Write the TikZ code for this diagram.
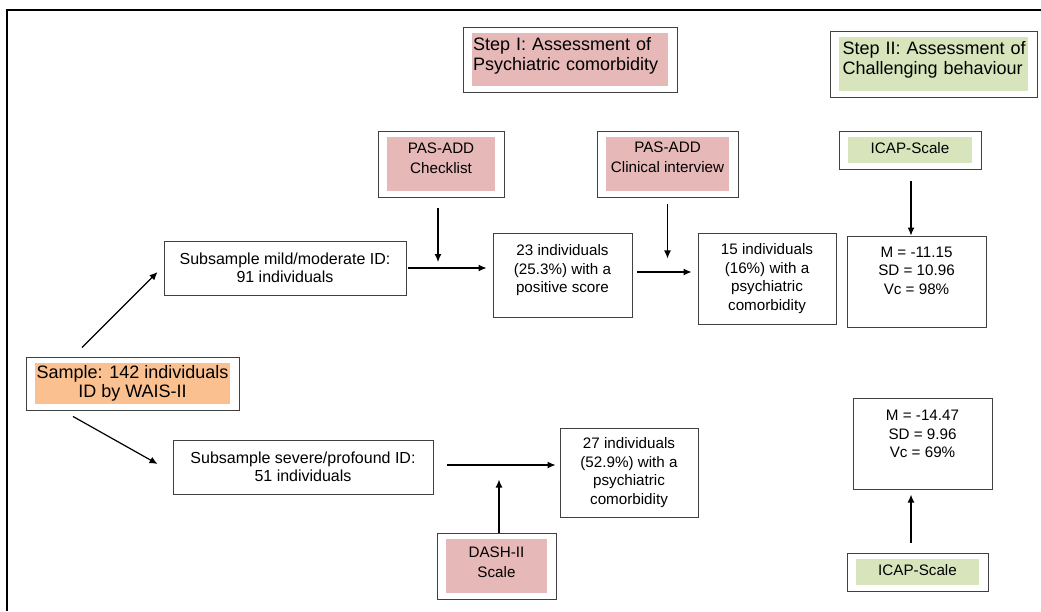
\documentclass[tikz,border=0pt]{standalone}
\usepackage{fontspec}
\setmainfont{Liberation Sans}
\usetikzlibrary{arrows.meta}

\definecolor{toolred}{RGB}{230,184,183}
\definecolor{toolgreen}{RGB}{215,228,188}
\definecolor{sampleorange}{RGB}{250,192,144}
\definecolor{boxgray}{RGB}{64,64,64}

\tikzset{
	box/.style={draw=boxgray, line width=0.9pt, fill=white, inner sep=0pt, align=center,
		font=\fontsize{15.2}{18.5}\selectfont},
	subbox/.style={box, font=\fontsize{16}{18.5}\selectfont},
	tool/.style={box, font=\fontsize{15.2}{20}\selectfont,
		path picture={\fill[#1] ([xshift=9pt,yshift=-6pt]path picture bounding box.north west)
			rectangle ([xshift=-9pt,yshift=6pt]path picture bounding box.south east);}},
	stepbox/.style={tool=#1, align=left, font=\fontsize{18}{20}\selectfont},
}

\begin{document}
\begin{tikzpicture}[>={Latex[length=8pt,width=7pt]}, x=1pt, y=-1pt]
	\useasboundingbox (0,0) rectangle (1041,611);
	
	% Rahmen
	\draw[line width=2pt] (7,611) -- (7,10) -- (1041,10);
	
	% Schritte
	\node[stepbox=toolred, minimum width=214pt, minimum height=65pt, text width=194pt, inner xsep=10pt, text depth=31pt] (stepone) at (570,59.5) {Step I: Assessment of\\Psychiatric comorbidity};
	\node[stepbox=toolgreen, minimum width=207pt, minimum height=66pt, text width=190pt, inner xsep=8.5pt, text depth=32pt] (steptwo) at (933.5,64) {\hspace*{4pt}Step II: Assessment of\\\hspace*{4pt}Challenging behaviour};
	
	% Instrumente
	\node[tool=toolred, minimum width=126pt, minimum height=66pt, text depth=12pt] (checklist) at (441,164) {PAS-ADD\\Checklist};
	\node[tool=toolred, minimum width=141pt, minimum height=66pt, text depth=14pt] (interview) at (667.5,164) {PAS-ADD\\Clinical interview};
	\node[tool=toolgreen, minimum width=142pt, minimum height=38pt, text depth=4pt] (icaptop) at (910,150) {ICAP-Scale};
	\node[tool=toolred, minimum width=119pt, minimum height=66pt, text depth=7pt] (dash) at (496.5,566) {DASH-II\\Scale};
	\node[tool=toolgreen, minimum width=141pt, minimum height=38pt, text depth=4pt] (icapbot) at (917.5,572) {ICAP-Scale};
	
	% Stichprobe
	\node[tool=sampleorange, minimum width=213pt, minimum height=53pt, font=\fontsize{18}{19}\selectfont] (sample) at (132.5,383.5) {Sample: 142 individuals\\ID by WAIS-II};
	\node[subbox, minimum width=242pt, minimum height=54pt] (mild) at (285,268) {Subsample mild/moderate ID:\\91 individuals};
	\node[subbox, minimum width=260pt, minimum height=54pt] (severe) at (303,467) {Subsample severe/profound ID:\\51 individuals};
	
	% Ergebnisse
	\node[box, minimum width=139pt, minimum height=84pt, text depth=13pt] (positive) at (562.5,275) {23 individuals\\(25.3\%) with a\\positive score};
	\node[box, minimum width=138pt, minimum height=91pt] (comorbmild) at (767,278.5) {15 individuals\\(16\%) with a\\psychiatric\\comorbidity};
	\node[box, minimum width=138pt, minimum height=89pt] (comorbsevere) at (629,472.5) {27 individuals\\(52.9\%) with a\\psychiatric\\comorbidity};
	\node[box, minimum width=139pt, minimum height=91pt, text depth=22pt] (statmild) at (916.5,281.5) {M = -11.15\\SD = 10.96\\Vc = 98\%};
	\node[box, minimum width=139pt, minimum height=91pt, text depth=19pt] (statsevere) at (922.5,443.5) {M = -14.47\\SD = 9.96\\Vc = 69\%};
	
	% Pfeile
	\draw[->, line width=1.2pt] ([xshift=-50.5pt,yshift=9pt]sample.north) -- ([xshift=-6pt,yshift=-4pt]mild.west);
	\draw[->, line width=1.2pt] ([xshift=-59.5pt,yshift=-6pt]sample.south) -- ([xshift=-15pt,yshift=3pt]severe.west);
	\draw[->, line width=1.2pt] ([xshift=2pt]mild.east) -- ([xshift=-6pt]mild.east -| positive.west);
	\draw[->, line width=1.2pt] ([xshift=-3pt,yshift=-11pt]checklist.south) -- ([xshift=-3pt,yshift=6pt]checklist.south |- mild.east);
	\draw[->, line width=1.2pt] ([xshift=5pt,yshift=3pt]positive.east) -- ([xshift=-6pt,yshift=3pt]positive.east -| comorbmild.west);
	\draw[->, line width=1.2pt] ([yshift=-7pt]interview.south) -- ([yshift=-61pt]interview.south);
	\draw[->, line width=1.2pt] ([xshift=1pt,yshift=-12pt]icaptop.south) -- ([xshift=1pt]icaptop.south |- statmild.north);
	\draw[->, line width=1.2pt] ([xshift=14pt,yshift=2pt]severe.east) -- ([xshift=-4pt,yshift=2pt]severe.east -| comorbsevere.west);
	\draw[->, line width=1.2pt] ([xshift=2.5pt]dash.north) -- ([xshift=2.5pt,yshift=53pt]dash.north);
	\draw[->, line width=1.2pt] ([xshift=-6.5pt,yshift=10pt]icapbot.north) -- ([xshift=-6.5pt,yshift=58pt]icapbot.north);
\end{tikzpicture}
\end{document}
